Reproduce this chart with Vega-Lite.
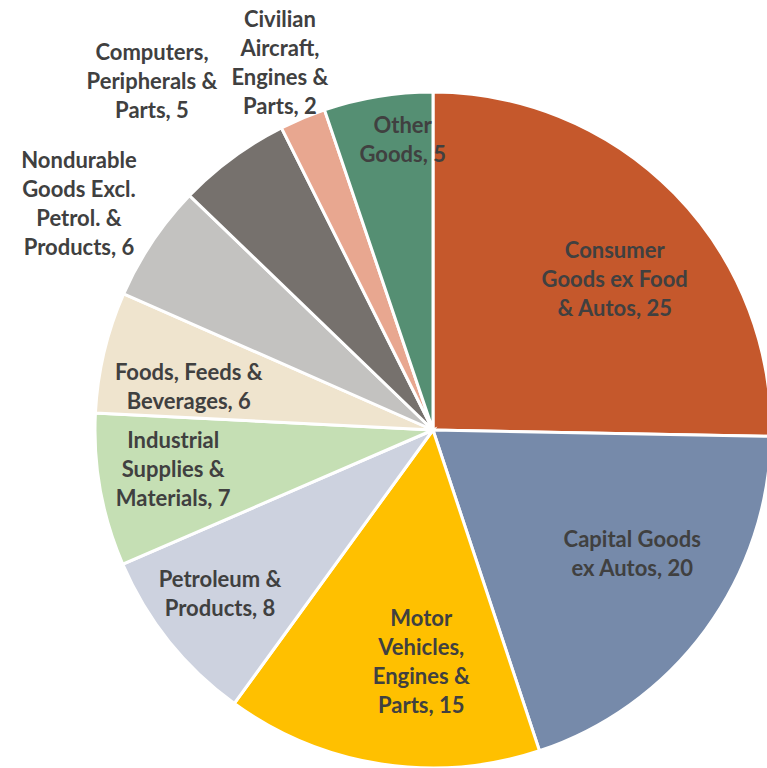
{
  "$schema": "https://vega.github.io/schema/vega-lite/v6.json",
  "width": 767,
  "height": 768,
  "autosize": "none",
  "padding": 0,
  "background": "white",
  "config": {"view": {"stroke": null}},
  "data": {
    "values": [
      {"cat": "Consumer Goods ex Food & Autos", "value": 25.3, "n": 1, "label": ["Consumer", "Goods ex Food", "& Autos, 25"]},
      {"cat": "Capital Goods ex Autos", "value": 19.6, "n": 2, "label": ["Capital Goods", "ex Autos, 20"]},
      {"cat": "Motor Vehicles, Engines & Parts", "value": 15.1, "n": 3, "label": ["Motor", "Vehicles,", "Engines &", "Parts, 15"]},
      {"cat": "Petroleum & Products", "value": 8.5, "n": 4, "label": ["Petroleum &", "Products, 8"]},
      {"cat": "Industrial Supplies & Materials", "value": 7.3, "n": 5, "label": ["Industrial", "Supplies &", "Materials, 7"]},
      {"cat": "Foods, Feeds & Beverages", "value": 5.8, "n": 6, "label": ["Foods, Feeds &", "Beverages, 6"]},
      {"cat": "Nondurable Goods Excl. Petrol. & Products", "value": 5.6, "n": 7, "label": ["Nondurable", "Goods Excl.", "Petrol. &", "Products, 6"]},
      {"cat": "Computers, Peripherals & Parts", "value": 5.4, "n": 8, "label": ["Computers,", "Peripherals &", "Parts, 5"]},
      {"cat": "Civilian Aircraft, Engines & Parts", "value": 2.2, "n": 9, "label": ["Civilian", "Aircraft,", "Engines &", "Parts, 2"]},
      {"cat": "Other Goods", "value": 5.2, "n": 10, "label": ["Other", "Goods, 5"]}
    ]
  },
  "encoding": {
    "theta": {"field": "value", "type": "quantitative", "stack": true},
    "order": {"field": "n", "type": "quantitative"},
    "detail": {"field": "cat", "type": "nominal"}
  },
  "layer": [
    {
      "mark": {"type": "arc", "outerRadius": 338, "x": 433, "y": 430, "stroke": "white", "strokeWidth": 3},
      "encoding": {
        "color": {
          "field": "cat", "type": "nominal", "legend": null, "sort": null,
          "scale": {
            "domain": ["Consumer Goods ex Food & Autos", "Capital Goods ex Autos", "Motor Vehicles, Engines & Parts", "Petroleum & Products", "Industrial Supplies & Materials", "Foods, Feeds & Beverages", "Nondurable Goods Excl. Petrol. & Products", "Computers, Peripherals & Parts", "Civilian Aircraft, Engines & Parts", "Other Goods"],
            "range": ["#C5582C", "#768AAA", "#FFC000", "#CDD2DF", "#C5DFB4", "#EFE4CE", "#C3C2C0", "#76716D", "#E8A790", "#558F73"]
          }
        }
      }
    },
    {
      "mark": {"type": "text", "x": 433, "y": 430, "radius": 235, "dx": 14, "dy": -14, "font": "Lato", "fontWeight": "bold", "fontSize": 22, "lineHeight": 29, "color": "#404040", "align": "center", "baseline": "middle"},
      "encoding": {"text": {"condition": {"test": "datum.n === 1", "field": "label"}, "value": ""}}
    },
    {
      "mark": {"type": "text", "x": 433, "y": 430, "radius": 235, "dx": 10, "dy": -29.5, "font": "Lato", "fontWeight": "bold", "fontSize": 22, "lineHeight": 29, "color": "#404040", "align": "center", "baseline": "middle"},
      "encoding": {"text": {"condition": {"test": "datum.n === 2", "field": "label"}, "value": ""}}
    },
    {
      "mark": {"type": "text", "x": 433, "y": 430, "radius": 233, "dx": 24, "dy": -41.5, "font": "Lato", "fontWeight": "bold", "fontSize": 22, "lineHeight": 29, "color": "#404040", "align": "center", "baseline": "middle"},
      "encoding": {"text": {"condition": {"test": "datum.n === 3", "field": "label"}, "value": ""}}
    },
    {
      "mark": {"type": "text", "x": 433, "y": 430, "radius": 269, "dx": -3, "dy": -18.5, "font": "Lato", "fontWeight": "bold", "fontSize": 22, "lineHeight": 29, "color": "#404040", "align": "center", "baseline": "middle"},
      "encoding": {"text": {"condition": {"test": "datum.n === 4", "field": "label"}, "value": ""}}
    },
    {
      "mark": {"type": "text", "x": 433, "y": 430, "radius": 264, "dx": 0, "dy": -36, "font": "Lato", "fontWeight": "bold", "fontSize": 22, "lineHeight": 29, "color": "#404040", "align": "center", "baseline": "middle"},
      "encoding": {"text": {"condition": {"test": "datum.n === 5", "field": "label"}, "value": ""}}
    },
    {
      "mark": {"type": "text", "x": 433, "y": 430, "radius": 251, "dx": 0, "dy": 0.5, "font": "Lato", "fontWeight": "bold", "fontSize": 22, "lineHeight": 29, "color": "#404040", "align": "center", "baseline": "middle"},
      "encoding": {"text": {"condition": {"test": "datum.n === 6", "field": "label"}, "value": ""}}
    },
    {
      "mark": {"type": "text", "x": 433, "y": 430, "radius": 419, "dx": -6, "dy": -35.5, "font": "Lato", "fontWeight": "bold", "fontSize": 22, "lineHeight": 29, "color": "#404040", "align": "center", "baseline": "middle"},
      "encoding": {"text": {"condition": {"test": "datum.n === 7", "field": "label"}, "value": ""}}
    },
    {
      "mark": {"type": "text", "x": 433, "y": 430, "radius": 447, "dx": -16, "dy": -17, "font": "Lato", "fontWeight": "bold", "fontSize": 22, "lineHeight": 29, "color": "#404040", "align": "center", "baseline": "middle"},
      "encoding": {"text": {"condition": {"test": "datum.n === 8", "field": "label"}, "value": ""}}
    },
    {
      "mark": {"type": "text", "x": 433, "y": 430, "radius": 397, "dx": 0, "dy": -43.5, "font": "Lato", "fontWeight": "bold", "fontSize": 22, "lineHeight": 29, "color": "#404040", "align": "center", "baseline": "middle"},
      "encoding": {"text": {"condition": {"test": "datum.n === 9", "field": "label"}, "value": ""}}
    },
    {
      "mark": {"type": "text", "x": 433, "y": 430, "radius": 291, "dx": 17, "dy": -16.5, "font": "Lato", "fontWeight": "bold", "fontSize": 22, "lineHeight": 29, "color": "#404040", "align": "center", "baseline": "middle"},
      "encoding": {"text": {"condition": {"test": "datum.n === 10", "field": "label"}, "value": ""}}
    }
  ]
}
